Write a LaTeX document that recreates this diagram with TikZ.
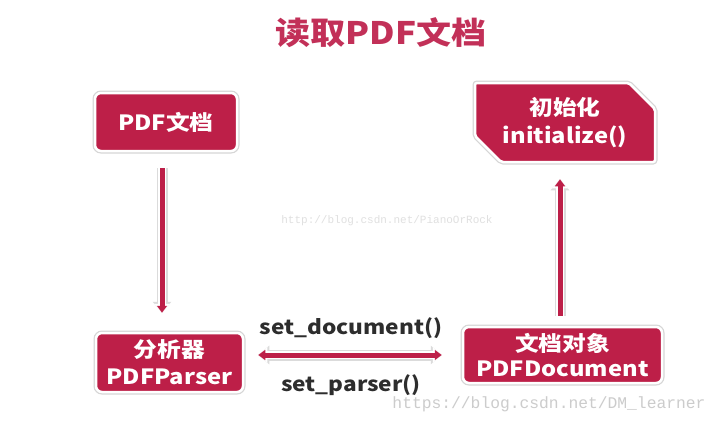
\documentclass[tikz,border=0pt]{standalone}
\usepackage{fontspec}
\newfontfamily\cjk[FakeStretch=1.13]{Noto Sans CJK SC}
\newfontfamily\wm{Liberation Mono}
\usetikzlibrary{arrows.meta,shapes.misc}
\definecolor{crim}{RGB}{189,31,72}
\definecolor{titlec}{RGB}{194,48,88}
\definecolor{labc}{RGB}{45,45,45}
\begin{document}
\begin{tikzpicture}[x=1pt,y=-1pt,
  box/.style={fill=crim, draw=white, line width=2.5pt, rounded corners=6pt,
    preaction={draw=black!16, line width=5pt},
    text=white, font=\cjk\bfseries\fontsize{21}{26}\selectfont,
    align=center, inner sep=0pt},
  arr/.style={draw=crim, line width=5pt, -{Triangle[width=10pt,length=7pt]},
    preaction={draw=black!14, line width=11pt, -{Triangle[width=18pt,length=11pt]}},
    preaction={draw=white, line width=8.5pt, -{Triangle[width=15pt,length=9pt]}}},
  darr/.style={draw=crim, line width=5pt, {Triangle[width=10pt,length=7pt]}-{Triangle[width=10pt,length=7pt]},
    preaction={draw=black!14, line width=11pt, {Triangle[width=18pt,length=11pt]}-{Triangle[width=18pt,length=11pt]}},
    preaction={draw=white, line width=8.5pt, {Triangle[width=15pt,length=9pt]}-{Triangle[width=15pt,length=9pt]}}},
  lab/.style={text=labc, font=\cjk\bfseries\fontsize{20}{24}\selectfont, inner sep=0pt},
  wmark/.style={font=\wm, inner sep=0pt}
]
\fill[white] (0,0) rectangle (723,423);
\useasboundingbox (0,0) rectangle (723,423);

\node[font=\cjk\bfseries\fontsize{31}{36}\selectfont, text=titlec] (title) at (381,33) {读取PDF文档};

\node[box, minimum width=142pt, minimum height=58pt] (b1) at (166,122) {PDF文档};
\node[box, chamfered rectangle, chamfered rectangle corners={north east,south west},
  chamfered rectangle xsep=13pt, chamfered rectangle ysep=13pt, rounded corners=2pt,
  minimum width=180pt, minimum height=79pt, font=\cjk\bfseries\fontsize{21}{28}\selectfont] (b2) at (565,122.5) {初始化\\initialize()};
\node[box, minimum width=147pt, minimum height=59pt, font=\cjk\bfseries\fontsize{21}{27}\selectfont] (b3) at (169.5,362.5) {分析器\\PDFParser};
\node[box, minimum width=199pt, minimum height=56pt, font=\cjk\bfseries\fontsize{21}{25}\selectfont] (b4) at (562.5,355) {文档对象\\PDFDocument};

\draw[arr, shorten >=19pt] ([shift={(-4pt,-16pt)}]b1.south) -- ([xshift=-4pt]b1.south |- b3.north);
\draw[arr, shorten >=16pt] ([shift={(-2.5pt,10pt)}]b4.north) -- ([xshift=-2.5pt]b4.north |- b2.south);
\draw[darr, shorten <=14pt, shorten >=20pt] (b3.east |- b4.west) -- (b4.west);

\node[lab] (l1) at (351,328) {set\_document()};
\node[lab] (l2) at (351,385) {set\_parser()};

\node[wmark, font=\wm\fontsize{11}{13}\selectfont, text=black!12] (wm1) at (387,221) {http://blog.csdn.net/PianoOrRock};
\node[wmark, font=\wm\fontsize{16.3}{18}\selectfont, text=black!20] (wm2) at (549,404) {https://blog.csdn.net/DM\_learner};
\end{tikzpicture}
\end{document}
